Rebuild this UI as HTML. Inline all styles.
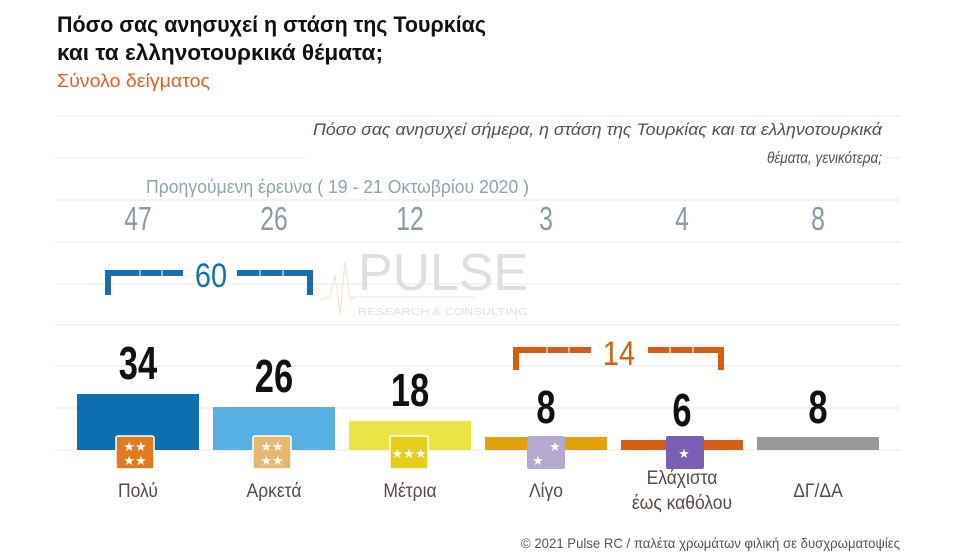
<!DOCTYPE html>
<html><head><meta charset="utf-8"><style>
html,body{margin:0;padding:0;background:#fff;}
svg{display:block;}
text{font-family:"Liberation Sans","DejaVu Sans",sans-serif;}
</style></head><body>
<svg width="957" height="554" viewBox="0 0 957 554" xmlns="http://www.w3.org/2000/svg">
<rect width="957" height="554" fill="#fff"/>
<g stroke="#ececec" stroke-width="1.2">
<line x1="55" y1="116" x2="900" y2="116"/>
<line x1="55" y1="158" x2="305" y2="158"/>
<line x1="885" y1="158" x2="900" y2="158"/>
<line x1="55" y1="200" x2="900" y2="200"/>
<line x1="55" y1="242" x2="900" y2="242"/>
<line x1="55" y1="284" x2="900" y2="284"/>
<line x1="55" y1="325" x2="900" y2="325"/>
<line x1="55" y1="366" x2="900" y2="366"/>
<line x1="55" y1="408" x2="900" y2="408"/>
<line x1="55" y1="450" x2="900" y2="450"/>
</g>
<text x="57" y="32" font-size="22" font-weight="bold" fill="#111" textLength="429" lengthAdjust="spacingAndGlyphs">Πόσο σας ανησυχεί η στάση της Τουρκίας</text>
<text x="57" y="60" font-size="22" font-weight="bold" fill="#111" textLength="326" lengthAdjust="spacingAndGlyphs">και τα ελληνοτουρκικά θέματα;</text>
<text x="57" y="87" font-size="18" fill="#d9622b" textLength="153" lengthAdjust="spacingAndGlyphs">Σύνολο δείγματος</text>
<text x="313" y="135" font-size="17" font-style="italic" fill="#5e4e4a" textLength="569" lengthAdjust="spacingAndGlyphs">Πόσο σας ανησυχεί σήμερα, η στάση της Τουρκίας και τα ελληνοτουρκικά</text>
<text x="767" y="163" font-size="16" font-style="italic" fill="#5e4e4a" textLength="115" lengthAdjust="spacingAndGlyphs">θέματα, γενικότερα;</text>
<text x="146" y="193" font-size="18" fill="#8fa3b0" textLength="383" lengthAdjust="spacingAndGlyphs">Προηγούμενη έρευνα  ( 19 - 21 Οκτωβρίου 2020 )</text>
<g font-size="33" fill="#8a9ba6" text-anchor="middle">
<text x="138" y="230" transform="translate(138 0) scale(0.75 1) translate(-138 0)">47</text>
<text x="274" y="230" transform="translate(274 0) scale(0.75 1) translate(-274 0)">26</text>
<text x="410" y="230" transform="translate(410 0) scale(0.75 1) translate(-410 0)">12</text>
<text x="546" y="230" transform="translate(546 0) scale(0.75 1) translate(-546 0)">3</text>
<text x="682" y="230" transform="translate(682 0) scale(0.75 1) translate(-682 0)">4</text>
<text x="818" y="230" transform="translate(818 0) scale(0.75 1) translate(-818 0)">8</text>
</g>
<g opacity="0.9">
<text x="358" y="290" font-size="52" fill="#dcdcdc" textLength="170" lengthAdjust="spacingAndGlyphs">PULSE</text>
<text x="358" y="315" font-size="10" fill="#dcdcdc" textLength="170" lengthAdjust="spacingAndGlyphs">RESEARCH &amp; CONSULTING</text>
<line x1="350" y1="297" x2="475" y2="297" stroke="#f5e4cc" stroke-width="1"/>
<polyline points="320,300 330,296 335,275 340,315 345,262 350,300 356,297" fill="none" stroke="#f5dcc0" stroke-width="1"/>
</g>
<g fill="#1a6fa8">
<rect x="105" y="270" width="78" height="6"/>
<rect x="105" y="270" width="6" height="25"/>
<rect x="237" y="270" width="76" height="6"/>
<rect x="307" y="270" width="6" height="25"/>
<text x="211" y="287" font-size="34" text-anchor="middle" transform="translate(211 0) scale(0.85 1) translate(-211 0)">60</text>
</g>
<g stroke="#fff" stroke-width="1"><line x1="140" y1="270" x2="140" y2="276"/><line x1="162" y1="270" x2="162" y2="276"/><line x1="260" y1="270" x2="260" y2="276"/><line x1="283" y1="270" x2="283" y2="276"/></g>
<g fill="#d55e12">
<rect x="513" y="347" width="78" height="6"/>
<rect x="513" y="347" width="6" height="23"/>
<rect x="648" y="347" width="76" height="6"/>
<rect x="718" y="347" width="6" height="23"/>
<text x="619" y="365" font-size="34" text-anchor="middle" transform="translate(619 0) scale(0.85 1) translate(-619 0)">14</text>
</g>
<g stroke="#fff" stroke-width="1"><line x1="547" y1="347" x2="547" y2="353"/><line x1="569" y1="347" x2="569" y2="353"/><line x1="670" y1="347" x2="670" y2="353"/><line x1="693" y1="347" x2="693" y2="353"/></g>
<rect x="77" y="394" width="122" height="56" fill="#0d6fb0"/>
<rect x="213" y="407" width="122" height="43" fill="#56b0e3"/>
<rect x="349" y="421" width="122" height="29" fill="#ece445"/>
<rect x="485" y="437" width="122" height="13" fill="#e3a10f"/>
<rect x="621" y="440" width="122" height="10" fill="#d55e12"/>
<rect x="757" y="437" width="122" height="13" fill="#999"/>
<g font-size="46" font-weight="bold" fill="#111" text-anchor="middle">
<text x="138" y="379" transform="translate(138 0) scale(0.75 1) translate(-138 0)">34</text>
<text x="274" y="392" transform="translate(274 0) scale(0.75 1) translate(-274 0)">26</text>
<text x="410" y="406" transform="translate(410 0) scale(0.75 1) translate(-410 0)">18</text>
<text x="546" y="423" transform="translate(546 0) scale(0.75 1) translate(-546 0)">8</text>
<text x="682" y="426" transform="translate(682 0) scale(0.75 1) translate(-682 0)">6</text>
<text x="818" y="423" transform="translate(818 0) scale(0.75 1) translate(-818 0)">8</text>
</g>
<g font-size="13" fill="#fff" text-anchor="middle">
<rect x="116" y="436" width="38" height="33" rx="2" fill="#e07b20" stroke="#fff" stroke-width="1.5"/>
<text x="135" y="451">★★</text><text x="135" y="465">★★</text>
<rect x="253" y="436" width="38" height="33" rx="2" fill="#e5b872" stroke="#fff" stroke-width="1.5"/>
<text x="272" y="451">★★</text><text x="272" y="465">★★</text>
<rect x="390" y="436" width="38" height="33" rx="2" fill="#e3cf1b" stroke="#fff" stroke-width="1.5"/>
<text x="409" y="458">★★★</text>
<rect x="527" y="436" width="38" height="33" rx="2" fill="#b6a9cf"/>
<text x="555" y="451">★</text><text x="538" y="465">★</text>
<rect x="666" y="436" width="38" height="33" rx="2" fill="#7b5fb5"/>
<text x="684" y="458">★</text>
</g>
<g font-size="19" fill="#5a4a48" text-anchor="middle">
<text x="138" y="497" transform="translate(138 0) scale(0.92 1) translate(-138 0)">Πολύ</text>
<text x="274" y="497" transform="translate(274 0) scale(0.92 1) translate(-274 0)">Αρκετά</text>
<text x="410" y="497" transform="translate(410 0) scale(0.92 1) translate(-410 0)">Μέτρια</text>
<text x="546" y="497" transform="translate(546 0) scale(0.92 1) translate(-546 0)">Λίγο</text>
<text x="682" y="484" transform="translate(682 0) scale(0.92 1) translate(-682 0)">Ελάχιστα</text>
<text x="682" y="509" transform="translate(682 0) scale(0.92 1) translate(-682 0)">έως καθόλου</text>
<text x="818" y="497" transform="translate(818 0) scale(0.92 1) translate(-818 0)">ΔΓ/ΔΑ</text>
</g>
<text x="521" y="548" font-size="14" fill="#555" textLength="379" lengthAdjust="spacingAndGlyphs">© 2021 Pulse RC  /  παλέτα χρωμάτων φιλική σε δυσχρωματοψίες</text>
</svg>
</body></html>
